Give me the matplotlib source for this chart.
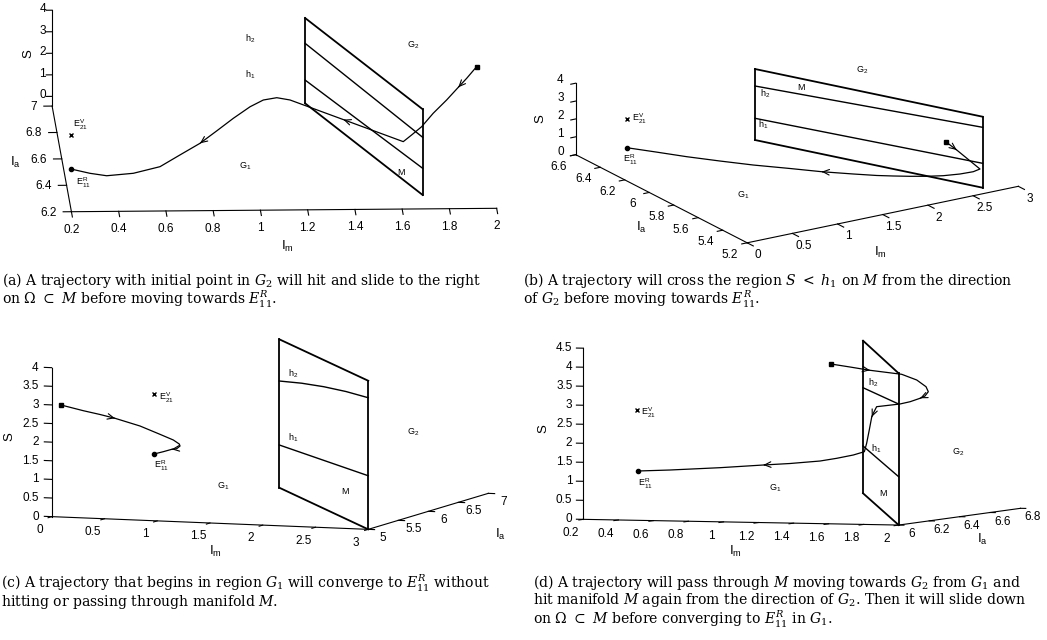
import numpy as np
import matplotlib
matplotlib.use("Agg")
import matplotlib.pyplot as plt
from mpl_toolkits.mplot3d import proj3d

W, H = 1047, 640
SANS = "Liberation Sans"
SERIF = "DejaVu Serif"

# ---- panel (a): start in G2, hit M and slide, then go to E11^R
A_IM = [1.956, 1.913, 1.877, 1.827, 1.769, 1.719, 1.676, 1.640, 1.382, 1.152, 1.095,
        1.037, 0.980, 0.908, 0.836, 0.764, 0.678, 0.592, 0.477, 0.362, 0.290, 0.208]
A_IA = [6.600, 6.592, 6.586, 6.578, 6.568, 6.559, 6.552, 6.546, 6.501, 6.462, 6.452,
        6.442, 6.432, 6.420, 6.408, 6.395, 6.381, 6.366, 6.346, 6.326, 6.314, 6.300]
A_S = [3.676, 3.187, 2.811, 2.278, 1.726, 1.161, 0.825, 0.555, 1.876, 3.047, 3.219,
       3.178, 2.932, 2.476, 1.968, 1.479, 1.034, 0.589, 0.414, 0.433, 0.626, 0.919]
A_ARROWS = [2, 8, 15]
A_EV = (0.208, 6.300, 2.497)
A_M_IM = [1.264, 1.690]
A_M_IA = [6.932, 6.232]
A_M_TOP = [3.96, 3.98]
A_M_H2 = [2.785, 2.678]
A_M_H1 = [1.081, 1.239]

# ---- panel (b): cross S < h1 on M from G2
B_IM = [2.332, 2.454, 2.711, 2.637, 2.490, 2.305, 2.122, 1.937, 1.789, 1.696, 1.564,
        1.387, 1.209, 1.003, 0.816, 0.629, 0.457, 0.293]
B_IA = [5.300, 5.300, 5.300, 5.300, 5.300, 5.300, 5.300, 5.300, 5.327, 5.394, 5.488,
        5.615, 5.743, 5.890, 6.024, 6.159, 6.282, 6.400]
B_S = [2.848, 2.255, 0.921, 0.848, 0.874, 0.974, 1.134, 1.328, 1.406, 1.297, 1.188,
       1.055, 0.972, 0.865, 0.814, 0.779, 0.788, 0.787]
B_ARROWS = [1, 11]
B_EV = (0.293, 6.400, 2.392)
B_M_IM = [1.636, 2.698]
B_M_IA = [6.344, 5.268]
B_M_TOP = [3.972, 3.972]
B_M_H2 = [3.021, 3.379]
B_M_H1 = [1.214, 1.365]

# ---- panel (c): start in G1, converge to E11^R without reaching M
C_IM = [0.088, 0.231, 0.338, 0.435, 0.595, 0.723, 0.809, 0.847, 0.852, 0.831, 0.799,
        0.745, 0.685]
C_IA = [5.000, 5.120, 5.210, 5.290, 5.425, 5.532, 5.604, 5.636, 5.640, 5.622, 5.595,
        5.550, 5.500]
C_S = [3.008, 2.813, 2.680, 2.550, 2.296, 2.036, 1.858, 1.739, 1.684, 1.618, 1.611,
       1.563, 1.518]
C_ARROWS = [3, 10]
C_EV = (0.685, 5.500, 3.129)
C_M_IM = [1.096, 3.0]
C_M_IA = [6.865, 5.0]
C_M_TOP = [3.985, 3.990]
C_M_H2 = [2.865, 3.086, 3.271, 3.421, 3.534]
C_M_H1 = [1.147, 1.439]

# ---- panel (d): through M into G2, back onto M, slide down, then to E11^R
D_IM = [1.526, 1.635, 1.749, 1.930, 2.016, 2.069, 2.082, 2.063, 2.035, 1.978, 1.920,
        1.787, 1.768, 1.759, 1.745, 1.730, 1.717, 1.654, 1.559, 1.464, 1.292, 1.140,
        0.893, 0.607, 0.426]
D_IA = [6.1] * 25
D_S = [4.140, 4.070, 3.993, 3.903, 3.760, 3.588, 3.458, 3.343, 3.281, 3.186, 3.121,
       3.039, 2.864, 2.766, 2.423, 2.072, 1.850, 1.758, 1.663, 1.584, 1.504, 1.452,
       1.361, 1.276, 1.235]
D_ARROWS = [2, 8, 13, 21]
D_EV = (0.421, 6.100, 2.838)
D_M_IM = [0.654, 2.0]
D_M_IA = [7.314, 6.0]
D_M_TOP = [4.012, 3.988]
D_M_H2 = [2.776, 3.181]
D_M_H1 = [1.244, 1.270]

# axis limits and ticks
A_LIM = [(0.2, 2.0), (6.2, 7.0), (-0.45, 4.0)]
B_LIM = [(0, 3), (5.2, 6.6), (0, 4)]
C_LIM = [(0, 3), (5, 7), (0, 4)]
D_LIM = [(0.2, 2), (6, 6.8), (0, 4.5)]
A_TICKS = [[0.2, 0.4, 0.6, 0.8, 1, 1.2, 1.4, 1.6, 1.8, 2], [6.2, 6.4, 6.6, 6.8, 7], [0, 1, 2, 3, 4]]
B_TICKS = [[0, 0.5, 1, 1.5, 2, 2.5, 3], [5.2, 5.4, 5.6, 5.8, 6, 6.2, 6.4, 6.6], [0, 1, 2, 3, 4]]
C_TICKS = [[0, 0.5, 1, 1.5, 2, 2.5, 3], [5, 5.5, 6, 6.5, 7],
           [0, 0.5, 1, 1.5, 2, 2.5, 3, 3.5, 4]]
D_TICKS = [[0.2, 0.4, 0.6, 0.8, 1, 1.2, 1.4, 1.6, 1.8, 2], [6, 6.2, 6.4, 6.6, 6.8],
           [0, 0.5, 1, 1.5, 2, 2.5, 3, 3.5, 4, 4.5]]

CAPTIONS = {
    "a": ["(a) A trajectory with initial point in $G_2$ will hit and slide to the right",
          r"on $\Omega\ \subset\ M$ before moving towards $E^R_{11}$."],
    "b": [r"(b) A trajectory will cross the region $S\ <\ h_1$ on $M$ from the direction",
          r"of $G_2$ before moving towards $E^R_{11}$."],
    "c": [r"(c) A trajectory that begins in region $G_1$ will converge to $E^R_{11}$ without",
          r"hitting or passing through manifold $M$."],
    "d": [r"(d) A trajectory will pass through $M$ moving towards $G_2$ from $G_1$ and",
          r"hit manifold $M$ again from the direction of $G_2$. Then it will slide down",
          r"on $\Omega\ \subset\ M$ before converging to $E^R_{11}$ in $G_1$."],
}

PANELS = {
    "a": dict(lim=A_LIM, ticks=A_TICKS, traj=(A_IM, A_IA, A_S), arrows=A_ARROWS, ev=A_EV,
              m=(A_M_IM, A_M_IA, A_M_TOP, A_M_H2, A_M_H1)),
    "b": dict(lim=B_LIM, ticks=B_TICKS, traj=(B_IM, B_IA, B_S), arrows=B_ARROWS, ev=B_EV,
              m=(B_M_IM, B_M_IA, B_M_TOP, B_M_H2, B_M_H1)),
    "c": dict(lim=C_LIM, ticks=C_TICKS, traj=(C_IM, C_IA, C_S), arrows=C_ARROWS, ev=C_EV,
              m=(C_M_IM, C_M_IA, C_M_TOP, C_M_H2, C_M_H1)),
    "d": dict(lim=D_LIM, ticks=D_TICKS, traj=(D_IM, D_IA, D_S), arrows=D_ARROWS, ev=D_EV,
              m=(D_M_IM, D_M_IA, D_M_TOP, D_M_H2, D_M_H1)),
}

# camera, where each box sits on the page (pixels from top-left), tick/label placement
LAYOUT = {
    "a": dict(elev=12.08, azim=-92.19, aspect=(1, 1.187, 0.2304), ya_at=0, s_at=1,
              tick_len=(-0.04, -0.035, -0.025),
              off=((0, -18, "center"), (-15, -1, "right"), (-6, 1, "right")),
              corners=[(71, 211.7), (496.7, 208.3), (52.3, 106), (52.3, 10.3)],
              titles=[((28.3, 53.3), "S", 90), ((15, 162), r"$\mathregular{I_a}$", 0),
                      ((287, 246), r"$\mathregular{I_m}$", 0)],
              ev_off=(2.3, 10), er_off=(5, -14),
              text=[("h_2", 250, 38.3), ("h_1", 250, 75), ("G_2", 413, 45),
                    ("G_1", 245, 166.7), ("M", 401.7, 171.7)],
              cap=(2, [285, 304])),
    "b": dict(elev=19.1, azim=-122.48, aspect=(1, 0.9931, 0.2354), ya_at=0, s_at=1,
              tick_len=(-0.05, -0.06, -0.055),
              off=((11, -12.5, "center"), (-17, -12, "center"), (-12, 3, "right")),
              corners=[(746.7, 243.3), (1018.3, 186.7), (576, 154.3), (576, 82.7)],
              titles=[((540, 118.3), "S", 90), ((641, 227), r"$\mathregular{I_a}$", 0),
                      ((880, 252), r"$\mathregular{I_m}$", 0)],
              ev_off=(5, 0), er_off=(-3.4, -12.3),
              text=[("G_2", 862, 70), ("M", 801.7, 86.7), ("h_2", 765, 93.3),
                    ("h_1", 763, 125), ("G_1", 743, 195)],
              cap=(523, [285, 304])),
    "c": dict(elev=6.30, azim=-69.9, aspect=(1, 1.0364, 0.4446), ya_at=1, s_at=0,
              tick_len=(-0.06, 0.06, -0.07),
              off=((-12, -13.3, "center"), (15, -9, "center"), (-13, 0, "right")),
              corners=[(51.7, 516.7), (368.3, 529.3), (488.3, 493.3), (51.7, 367.7)],
              titles=[((9.3, 436.7), "S", 90), ((215, 551), r"$\mathregular{I_m}$", 0),
                      ((500, 534), r"$\mathregular{I_a}$", 0)],
              ev_off=(5.3, -4), er_off=(0, -12),
              text=[("h_2", 293, 373.3), ("h_1", 293, 437.3), ("M", 345, 490.7),
                    ("G_1", 223, 486.7), ("G_2", 413, 432.7)],
              cap=(1, [588, 606])),
    "d": dict(elev=2.86, azim=-70.04, aspect=(1, 1.0639, 0.5109), ya_at=1, s_at=0,
              tick_len=(-0.03, 0.03, -0.04),
              off=((-12.5, -14, "center"), (12.5, -9, "center"), (-11, 0, "right")),
              corners=[(583.3, 519.3), (899.5, 525), (1020, 508.3), (583.3, 348.3)],
              titles=[((543.3, 428.3), "S", 90), ((735, 551), r"$\mathregular{I_m}$", 0),
                      ((982, 539), r"$\mathregular{I_a}$", 0)],
              ev_off=(3.4, -3), er_off=(0, -13),
              text=[("h_2", 873, 382.7), ("h_1", 876, 448.3), ("M", 883.3, 492.7),
                    ("G_2", 958, 452.7), ("G_1", 775, 488.3)],
              cap=(533, [587, 604, 624.5])),
}


def proj2d(ax, p):
    x, y, _ = proj3d.proj_transform(p[0], p[1], p[2], ax.get_proj())
    return float(x), float(y)


def box_corners(lim, ya_at, s_at):
    (x0, x1), (y0, y1), (z0, z1) = lim
    xa = (x0, x1)[ya_at]
    ys = (y0, y1)[s_at]
    return [(x0, y0, z0), (x1, y0, z0), (xa, y1, z0), (x0, ys, z1)]


def fit_position(ax, anchors, targets):
    # scale/shift the (square) 3D axes so the box corners land on the given pixels
    pts = np.array(anchors, float).T
    xs, ys, _ = proj3d.proj_transform(pts[0], pts[1], pts[2], ax.get_proj())
    vl = ax.viewLim
    u = np.column_stack([(xs - vl.x0) / vl.width, (ys - vl.y0) / vl.height])
    t = np.array([(px, H - py) for px, py in targets], float)
    uc, tc = u - u.mean(0), t - t.mean(0)
    s = (uc * tc).sum() / (uc ** 2).sum()
    o = t.mean(0) - s * u.mean(0)
    ax.set_position([o[0] / W, o[1] / H, s / W, s / H])


def label_at(ax, p, text, dx, dy, **kw):
    ax.annotate(text, proj2d(ax, p), xytext=(dx, dy), textcoords="offset pixels",
                annotation_clip=False, **kw)


def arrowhead(ax, p_prev, p_tip):
    x1, y1 = proj2d(ax, p_tip)
    x0, y0 = proj2d(ax, p_prev)
    ax.annotate("", xy=(x1, y1), xytext=(x1 - 0.03 * (x1 - x0), y1 - 0.03 * (y1 - y0)),
                arrowprops=dict(arrowstyle="->,head_length=0.45,head_width=0.2", lw=0.8,
                                color="k", shrinkA=0, shrinkB=0),
                annotation_clip=False)


fig = plt.figure(figsize=(W / 100, H / 100), dpi=100)

axes = {}
for key, p in PANELS.items():
    lay = LAYOUT[key]
    ax = fig.add_subplot(projection="3d", proj_type="ortho")
    ax.set_xlim(*p["lim"][0])
    ax.set_ylim(*p["lim"][1])
    ax.set_zlim(*p["lim"][2])
    ax.view_init(elev=lay["elev"], azim=lay["azim"])
    ax.set_box_aspect(lay["aspect"])
    ax.set_axis_off()
    ax.set_facecolor("none")
    axes[key] = ax

fig.canvas.draw()
for key, ax in axes.items():
    lay = LAYOUT[key]
    fit_position(ax, box_corners(PANELS[key]["lim"], lay["ya_at"], lay["s_at"]), lay["corners"])

lk = dict(color="k", lw=0.8, clip_on=False)
tick_font = dict(fontsize=8.5, family=SANS, va="center")
small = dict(fontsize=6.5, family=SANS, va="center")

for key, ax in axes.items():
    p, lay = PANELS[key], LAYOUT[key]
    (x0, x1), (y0, y1), (z0, z1) = p["lim"]
    xt, yt, st = p["ticks"]
    lx, ly, lz = lay["tick_len"]
    ox, oy, oz = lay["off"]
    ya = (x0, x1)[lay["ya_at"]]
    sy = (y0, y1)[lay["s_at"]]

    # MATLAB-style axis lines on three edges of the box
    ax.plot([x0, x1], [y0, y0], [z0, z0], **lk)
    ax.plot([ya, ya], [y0, y1], [z0, z0], **lk)
    ax.plot([x0, x0], [sy, sy], [z0, z1], **lk)
    for v in xt:
        ax.plot([v, v], [y0, y0 + lx], [z0, z0], **lk)
        label_at(ax, (v, y0, z0), f"{v:g}", ox[0], ox[1], ha=ox[2], **tick_font)
    for v in yt:
        ax.plot([ya, ya + ly], [v, v], [z0, z0], **lk)
        label_at(ax, (ya, v, z0), f"{v:g}", oy[0], oy[1], ha=oy[2], **tick_font)
    for v in st:
        ax.plot([x0, x0 + lz], [sy, sy], [v, v], **lk)
        label_at(ax, (x0, sy, v), f"{v:g}", oz[0], oz[1], ha=oz[2], **tick_font)
    for (px, py), s, rot in lay["titles"]:
        fig.text(px / W, 1 - py / H, s, fontsize=9.5, family=SANS, rotation=rot,
                 ha="center", va="center")

    # switching manifold M with the h1 / h2 levels
    m_im, m_ia, top, h2, h1 = p["m"]
    for i in (0, 1):
        ax.plot([m_im[i]] * 2, [m_ia[i]] * 2, [0, top[i]], color="k", lw=1.3, clip_on=False)
    ax.plot(m_im, m_ia, [top[0], top[1]], color="k", lw=1.3, clip_on=False)
    ax.plot(m_im, m_ia, [0, 0], color="k", lw=1.3, clip_on=False)
    ax.plot(np.linspace(m_im[0], m_im[1], len(h2)), np.linspace(m_ia[0], m_ia[1], len(h2)), h2,
            color="k", lw=1.0, clip_on=False)
    ax.plot(m_im, m_ia, h1, color="k", lw=1.0, clip_on=False)

    # trajectory, start square, equilibria
    im, ia, s = (np.asarray(v, float) for v in p["traj"])
    ax.plot(im, ia, s, color="k", lw=0.9, clip_on=False)
    ax.plot(im[:1], ia[:1], s[:1], "ks", ms=3, clip_on=False)
    ax.plot(im[-1:], ia[-1:], s[-1:], "ko", ms=3, clip_on=False)
    pts = np.column_stack([im, ia, s])
    for i in p["arrows"]:
        arrowhead(ax, pts[i - 1], pts[i])
    ev = p["ev"]
    ax.plot([ev[0]], [ev[1]], [ev[2]], "kx", ms=3.5, mew=1.0, clip_on=False)
    label_at(ax, ev, r"$\mathregular{E^V_{21}}$", *lay["ev_off"], ha="left", **small)
    label_at(ax, pts[-1], r"$\mathregular{E^R_{11}}$", *lay["er_off"], ha="left", **small)
    for name, px, py in lay["text"]:
        fig.text(px / W, 1 - py / H, r"$\mathregular{%s}$" % name, ha="center", **small)

    cx, cys = lay["cap"]
    for py, line in zip(cys, CAPTIONS[key]):
        fig.text(cx / W, 1 - py / H, line, fontsize=10.1, family=SERIF,
                 math_fontfamily="dejavuserif", ha="left", va="baseline")

fig.savefig("out.png", dpi=100)
